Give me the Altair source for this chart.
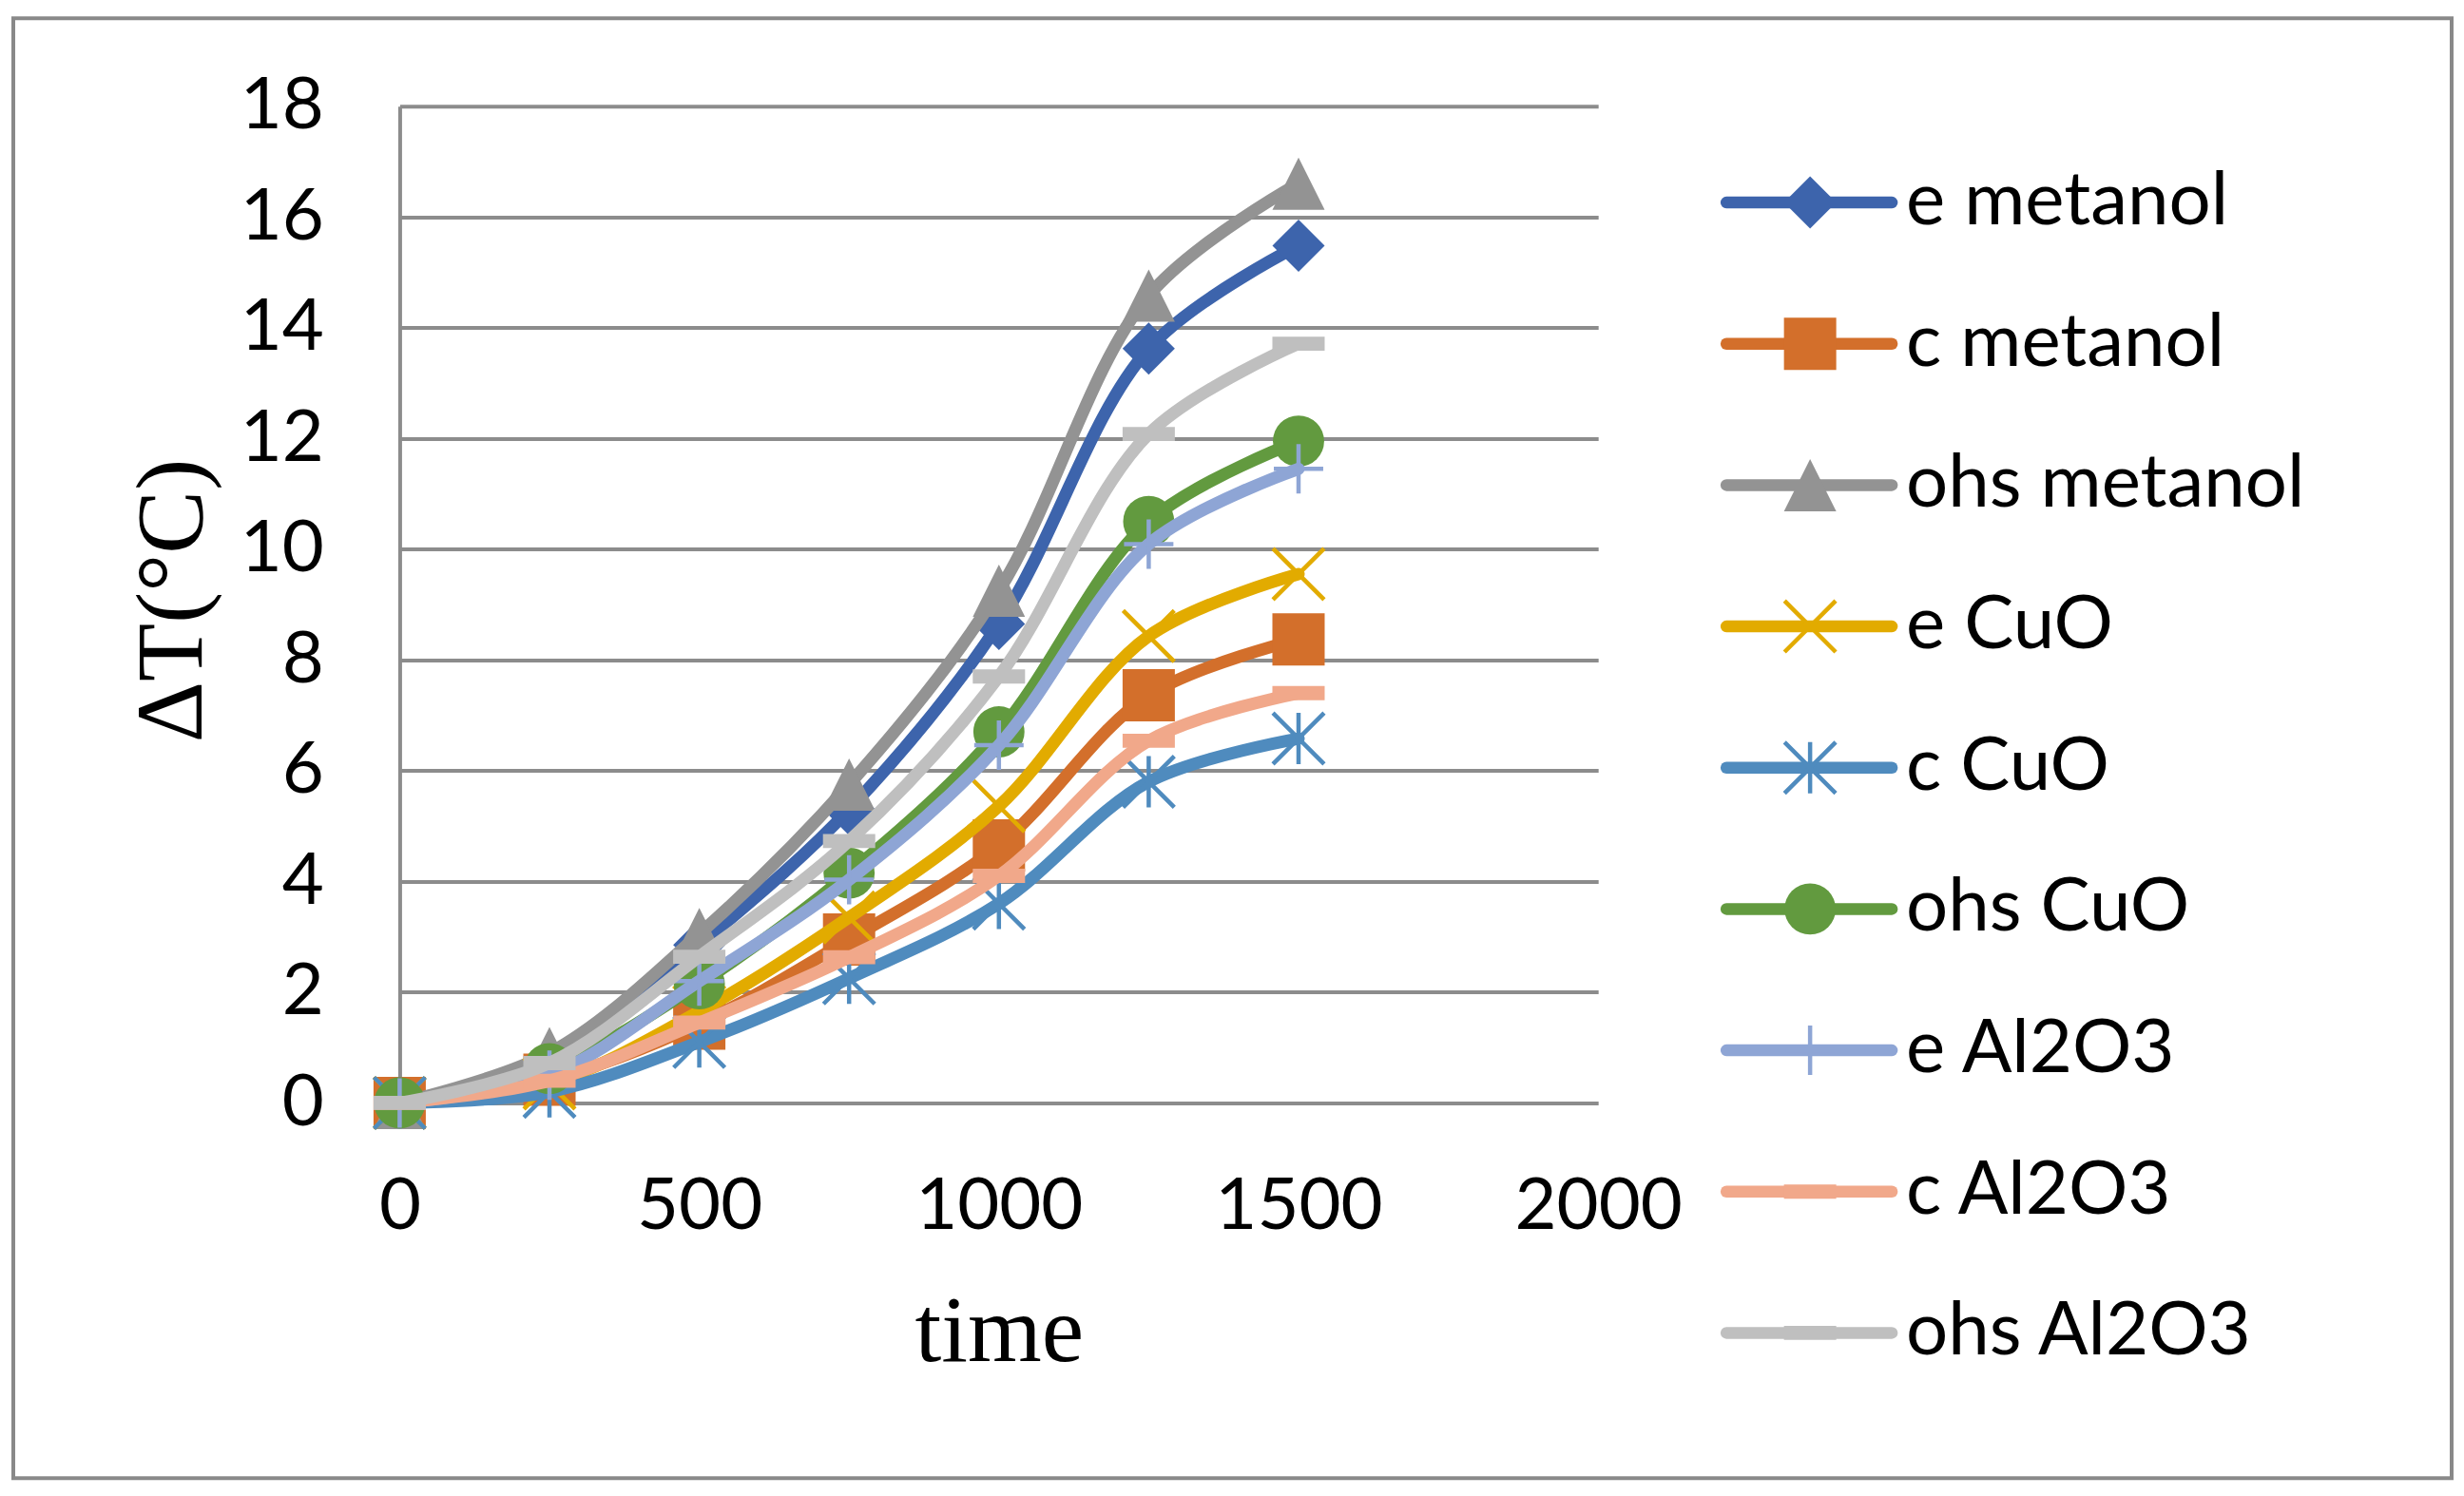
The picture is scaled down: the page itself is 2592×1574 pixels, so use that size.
import altair as alt
import pandas as pd

# ---------------- data ----------------
time = [0, 250, 500, 750, 1000, 1250, 1500]
series_names = ["e metanol", "c metanol", "ohs metanol", "e CuO", "c CuO",
                "ohs CuO", "e Al2O3", "c Al2O3", "ohs Al2O3"]
e_metanol = [0, 0.70, 2.85, 5.30, 8.65, 13.62, 15.48]
c_metanol = [0, 0.42, 1.43, 2.95, 4.65, 7.36, 8.37]
ohs_metanol = [0, 0.90, 3.05, 5.75, 9.25, 14.58, 16.60]
e_CuO = [0, 0.35, 1.65, 3.35, 5.36, 8.43, 9.55]
c_CuO = [0, 0.20, 1.10, 2.25, 3.60, 5.80, 6.58]
ohs_CuO = [0, 0.62, 2.15, 4.15, 6.70, 10.50, 11.95]
e_Al2O3 = [0, 0.50, 2.20, 4.03, 6.46, 10.09, 11.45]
c_Al2O3 = [0, 0.40, 1.45, 2.63, 4.10, 6.54, 7.40]
ohs_Al2O3 = [0, 0.72, 2.64, 4.73, 7.70, 12.08, 13.71]
values = [e_metanol, c_metanol, ohs_metanol, e_CuO, c_CuO,
          ohs_CuO, e_Al2O3, c_Al2O3, ohs_Al2O3]
colors = ["#3D64AC", "#D36F2B", "#939393", "#E2AB00", "#4F8BBE",
          "#629A3F", "#8EA5D5", "#F1A88A", "#BFBFBF"]
x_ticks = [0, 500, 1000, 1500, 2000]
y_ticks = [0, 2, 4, 6, 8, 10, 12, 14, 16, 18]

rows = []
for name, vals in zip(series_names, values):
    for t, v in zip(time, vals):
        rows.append({"series": name, "time": t, "dT": v})
df = pd.DataFrame(rows)
legend_df = pd.DataFrame({"series": series_names})
frame_df = pd.DataFrame({"k": [0]})

DASH = "M-1,-0.27L1,-0.27L1,0.27L-1,0.27Z"
markers = {
    "e metanol": ("diamond", True, 3025),
    "c metanol": ("square", True, 3025),
    "ohs metanol": ("M0,-1L1,1L-1,1Z", True, 3025),
    "e CuO": ("M-1,-1L1,1M-1,1L1,-1", False, 2900),
    "c CuO": ("M0,-1L0,1M-1,-1L1,1M-1,1L1,-1", False, 2900),
    "ohs CuO": ("circle", True, 2900),
    "e Al2O3": ("M-1,0L1,0M0,-1L0,1", False, 2700),
    "c Al2O3": (DASH, True, 3025),
    "ohs Al2O3": (DASH, True, 3025),
}

LABEL_FONT = "Lato"
TITLE_FONT = "Liberation Serif"
GRID = "#8c8c8c"

W, H = 1261, 1049

xenc = alt.X("time:Q",
             scale=alt.Scale(domain=[0, 2000], nice=False, zero=False),
             axis=alt.Axis(values=x_ticks, format="d", grid=False, domain=False,
                           ticks=False, tickSize=0, labelPadding=72,
                           labelFlush=False, labelLimit=1000, labelOverlap=False,
                           labelFont=LABEL_FONT, labelFontSize=76, labelColor="black",
                           labelBaseline="top",
                           title="time", titleFont=TITLE_FONT, titleFontSize=100,
                           titleFontWeight="normal", titleColor="black",
                           titleBaseline="alphabetic", titleY=271))
yenc = alt.Y("dT:Q",
             scale=alt.Scale(domain=[0, 18], nice=False),
             axis=alt.Axis(values=y_ticks, format="d", grid=True, gridColor=GRID,
                           gridWidth=4, domain=True, domainColor=GRID, domainWidth=4,
                           ticks=False, tickSize=0, labelPadding=80,
                           labelFlush=False, labelLimit=1000, labelOverlap=False,
                           labelFont=LABEL_FONT, labelFontSize=76, labelColor="black",
                           title="ΔT(°C)", titleFont=TITLE_FONT, titleFontSize=100,
                           titleFontWeight="normal", titleColor="black",
                           titleAngle=270, titleBaseline="alphabetic",
                           titleAlign="center", titleX=-209, titleY=520))

base = alt.Chart(df).encode(x=xenc, y=yenc)

frame = alt.Chart(frame_df).mark_rect(fillOpacity=0, stroke="#898989", strokeWidth=4).encode(
    x=alt.value(-406.5), x2=alt.value(2159), y=alt.value(-92.5), y2=alt.value(1444))

data_layers = [frame]
for name, col in zip(series_names, colors):
    shape, filled, size = markers[name]
    sub = base.transform_filter(alt.datum.series == name)
    data_layers.append(sub.mark_line(color=col, strokeWidth=13,
                                     interpolate="catmull-rom", strokeCap="round",
                                     strokeJoin="round"))
    if filled:
        pt = sub.mark_point(shape=shape, filled=True, fill=col, stroke=col,
                            strokeWidth=0, size=size, opacity=1)
    else:
        pt = sub.mark_point(shape=shape, filled=False, stroke=col, strokeWidth=4.5,
                            size=size, opacity=1)
    data_layers.append(pt)

leg_y = alt.Y("series:N",
              scale=alt.Scale(type="point", domain=series_names,
                              range=[101.5, 1291], padding=0),
              axis=None)
legend_layers = []
for name, col in zip(series_names, colors):
    shape, filled, size = markers[name]
    sub = alt.Chart(legend_df).transform_filter(alt.datum.series == name)
    legend_layers.append(sub.mark_rule(color=col, strokeWidth=12.5, strokeCap="round").encode(
        x=alt.value(1396), x2=alt.value(1570), y=leg_y))
    if filled:
        pt = sub.mark_point(shape=shape, filled=True, fill=col, stroke=col,
                            strokeWidth=0, size=size, opacity=1)
    else:
        pt = sub.mark_point(shape=shape, filled=False, stroke=col, strokeWidth=4.5,
                            size=size, opacity=1)
    legend_layers.append(pt.encode(x=alt.value(1484), y=leg_y))
    legend_layers.append(sub.mark_text(align="left", baseline="middle", font=LABEL_FONT,
                                       fontSize=78, color="black").encode(
        x=alt.value(1585), y=leg_y, text="series:N"))

chart = alt.layer(
    alt.layer(*data_layers),
    alt.layer(*legend_layers),
).resolve_scale(y="independent").properties(
    width=W, height=H,
    padding={"left": 3.5, "top": 8.5, "right": 3, "bottom": 3},
    background="white",
).configure_view(stroke=None)

chart.save("out.html", embed_options={"renderer": "svg", "actions": False})
